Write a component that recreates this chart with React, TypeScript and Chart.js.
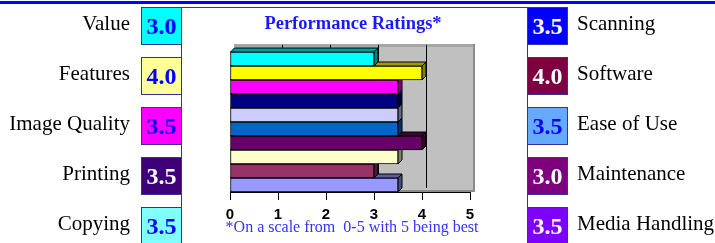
import React, { useEffect, useRef } from "react";
import { Chart, registerables } from "chart.js";

Chart.register(...registerables);

// ---- data ----
const categories = [
  "Value",
  "Features",
  "Image Quality",
  "Printing",
  "Copying",
  "Scanning",
  "Software",
  "Ease of Use",
  "Maintenance",
  "Media Handling",
];
const ratings = [3.0, 4.0, 3.5, 3.5, 3.5, 3.5, 4.0, 3.5, 3.0, 3.5];
const barColors = [
  "#00ffff",
  "#ffff00",
  "#ff00ff",
  "#000080",
  "#ccccff",
  "#0066cc",
  "#660066",
  "#ffffcc",
  "#993366",
  "#9999ff",
];
const boxColors = [
  "#00ffff",
  "#ffff99",
  "#ff00ff",
  "#3d0079",
  "#80ffff",
  "#0000ff",
  "#7f0040",
  "#66aaff",
  "#7f007f",
  "#8000ff",
];
const boxTextColors = [
  "#0000ff",
  "#0000ff",
  "#0000ff",
  "#ffffff",
  "#0000ff",
  "#ffffff",
  "#ffffff",
  "#0000ff",
  "#ffffff",
  "#ffffff",
];
const xTicks = [0, 1, 2, 3, 4, 5];
const titleText = "Performance Ratings*";
const noteText = "*On a scale from  0-5 with 5 being best";

// ---- style helpers ----
const SERIF = '"Liberation Serif", "Times New Roman", Times, serif';
const SANS = '"Liberation Sans", Arial, Helvetica, sans-serif';
const DX = 4;
const DY = 4;

function shade(hex: string, f: number): string {
  const n = parseInt(hex.slice(1), 16);
  const r = Math.round(((n >> 16) & 255) * f);
  const g = Math.round(((n >> 8) & 255) * f);
  const b = Math.round((n & 255) * f);
  return `rgb(${r},${g},${b})`;
}

const wallPlugin = {
  id: "wall3d",
  beforeDatasetsDraw(chart: any) {
    const { ctx, chartArea: a } = chart;
    const x = chart.scales.x;
    const w = a.right - a.left;
    ctx.save();
    // back wall
    ctx.fillStyle = "#c0c0c0";
    ctx.fillRect(a.left + DX, a.top - 8, w, a.bottom - a.top + 8);
    // top edge band
    ctx.fillStyle = "#a6a6a6";
    ctx.fillRect(a.left + DX, a.top - 8, w, 3);
    // right edge
    ctx.fillStyle = "#8c8c8c";
    ctx.fillRect(a.right + DX - 1, a.top - 8, 2, a.bottom - a.top + 8);
    // floor edge
    ctx.fillStyle = "#8c8c8c";
    ctx.fillRect(a.left, a.bottom - 2, w + DX, 2);
    // wall gridlines
    ctx.strokeStyle = "#000";
    ctx.lineWidth = 1;
    for (const v of xTicks) {
      if (v <= 0 || v >= 5) continue;
      const px = Math.round(x.getPixelForValue(v) + DX) + 0.5;
      ctx.beginPath();
      ctx.moveTo(px, a.top - 7);
      ctx.lineTo(px, a.bottom - DY);
      ctx.stroke();
    }
    // 3D top and side faces, bottom bar first
    const meta = chart.getDatasetMeta(0);
    for (let i = meta.data.length - 1; i >= 0; i--) {
      const el = meta.data[i];
      const p = el.getProps(["x", "y", "base", "height"], true);
      const t = p.y - p.height / 2;
      const b = p.y + p.height / 2;
      const col = barColors[i];
      ctx.fillStyle = shade(col, 0.62);
      ctx.beginPath();
      ctx.moveTo(p.base, t);
      ctx.lineTo(p.base + DX, t - DY);
      ctx.lineTo(p.x + DX, t - DY);
      ctx.lineTo(p.x, t);
      ctx.closePath();
      ctx.fill();
      ctx.stroke();
      ctx.fillStyle = shade(col, 0.5);
      ctx.beginPath();
      ctx.moveTo(p.x, t);
      ctx.lineTo(p.x + DX, t - DY);
      ctx.lineTo(p.x + DX, b - DY);
      ctx.lineTo(p.x, b);
      ctx.closePath();
      ctx.fill();
      ctx.stroke();
    }
    ctx.restore();
  },
};

function ValueBox({ i, left }: { i: number; left: number }) {
  const row = i % 5;
  return (
    <div
      style={{
        position: "absolute",
        left,
        top: 7 + 50 * row,
        width: 41,
        height: 38,
        boxSizing: "border-box",
        border: "1px solid #333399",
        background: boxColors[i],
        color: boxTextColors[i],
        display: "flex",
        alignItems: "center",
        justifyContent: "center",
        fontFamily: SERIF,
        fontWeight: "bold",
        fontSize: 24,
        lineHeight: 1,
      }}
    >
      {ratings[i].toFixed(1)}
    </div>
  );
}

function Label({ i }: { i: number }) {
  const row = i % 5;
  const isLeft = i < 5;
  const base: any = {
    position: "absolute",
    top: 13.4 + 50 * row,
    fontFamily: SERIF,
    fontSize: 21,
    lineHeight: 1,
    color: "#000",
    whiteSpace: "nowrap",
  };
  if (isLeft) {
    base.right = 715 - 130;
    base.textAlign = "right";
  } else {
    base.left = 577;
  }
  return <div style={base}>{categories[i]}</div>;
}

export default function App() {
  const canvasRef = useRef<HTMLCanvasElement | null>(null);

  useEffect(() => {
    const canvas = canvasRef.current;
    if (!canvas) return;
    const chart = new Chart(canvas, {
      type: "bar",
      data: {
        labels: categories,
        datasets: [
          {
            data: ratings,
            backgroundColor: barColors,
            borderColor: "#000",
            borderWidth: 1,
            borderSkipped: false,
            barPercentage: 1,
            categoryPercentage: 1,
          } as any,
        ],
      },
      options: {
        indexAxis: "y",
        animation: false,
        responsive: false,
        maintainAspectRatio: false,
        events: [],
        layout: { padding: { left: 230, right: 245, top: 52, bottom: 21 } },
        plugins: {
          legend: { display: false },
          title: { display: false },
          tooltip: { enabled: false },
        },
        scales: {
          x: {
            type: "linear",
            position: "bottom",
            min: 0,
            max: 5,
            afterBuildTicks: (s: any) => {
              s.ticks = xTicks.map((v) => ({ value: v }));
            },
            ticks: {
              color: "#000",
              font: { family: SANS, size: 15, weight: "bold" },
              padding: 6,
              maxRotation: 0,
              autoSkip: false,
              callback: (v: any) => String(v),
            },
            grid: {
              drawOnChartArea: false,
              drawTicks: true,
              tickLength: 8,
              color: "#000",
              lineWidth: 1,
            },
            border: { display: true, color: "#000", width: 1 },
            afterFit: (s: any) => {
              s.height = 30;
            },
          },
          y: {
            type: "category",
            display: false,
          },
        },
      } as any,
      plugins: [wallPlugin],
    });
    return () => chart.destroy();
  }, []);

  return (
    <div
      style={{
        position: "absolute",
        left: 0,
        top: 0,
        width: 715,
        height: 243,
        overflow: "hidden",
        background: "#fff",
      }}
    >
      <canvas
        ref={canvasRef}
        width={715}
        height={243}
        style={{ position: "absolute", left: 0, top: 0, width: 715, height: 243 }}
      />
      <div
        style={{
          position: "absolute",
          left: 0,
          top: 1,
          width: 715,
          height: 3,
          background: "#0000ff",
        }}
      />
      <div
        style={{
          position: "absolute",
          left: 181,
          top: 7,
          width: 347,
          height: 250,
          boxSizing: "border-box",
          border: "1px solid #333399",
          borderBottom: "none",
          pointerEvents: "none",
        }}
      />
      <div
        style={{
          position: "absolute",
          left: 181,
          width: 344,
          top: 13.5,
          textAlign: "center",
          fontFamily: SERIF,
          fontWeight: "bold",
          fontSize: 18.5,
          lineHeight: 1,
          color: "#1a1aff",
          whiteSpace: "nowrap",
        }}
      >
        {titleText}
      </div>
      <div
        style={{
          position: "absolute",
          left: 181,
          width: 342,
          top: 219.3,
          textAlign: "center",
          fontFamily: SERIF,
          fontSize: 16,
          lineHeight: 1,
          color: "#3333ff",
          whiteSpace: "pre",
        }}
      >
        {noteText}
      </div>
      {categories.map((_, i) => (
        <Label key={"l" + i} i={i} />
      ))}
      {categories.map((_, i) => (
        <ValueBox key={"b" + i} i={i} left={i < 5 ? 141 : 527} />
      ))}
    </div>
  );
}
